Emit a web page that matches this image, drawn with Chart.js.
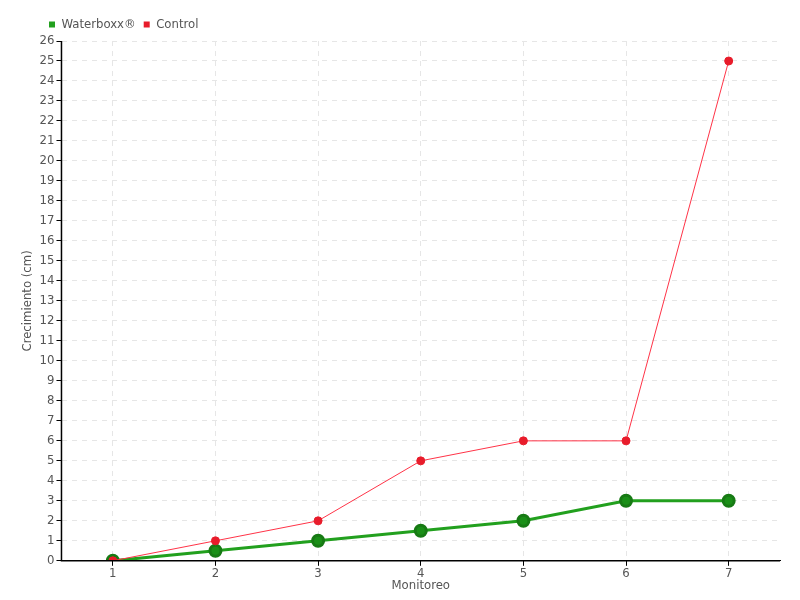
<!DOCTYPE html>
<html><head><meta charset="utf-8">
<script src="https://cdn.jsdelivr.net/npm/chart.js@4/dist/chart.umd.min.js"></script>
<style>html,body{margin:0;padding:0;background:#fff;}#wrap{width:800px;height:600px;}</style>
</head><body><div id="wrap"><canvas id="c" width="800" height="600"></canvas></div>
<script>
const categories = ['1','2','3','4','5','6','7'];
const waterboxx = [0, 0.5, 1, 1.5, 2, 3, 3];
const control = [0, 1, 2, 5, 6, 6, 25];
const yTicks = [0,1,2,3,4,5,6,7,8,9,10,11,12,13,14,15,16,17,18,19,20,21,22,23,24,25,26];
const FONT = "'DejaVu Sans Condensed', 'Liberation Sans Narrow', sans-serif";
new Chart(document.getElementById('c'), {
  type: 'line',
  data: {
    labels: categories,
    datasets: [
      {label: 'Control', data: control, borderColor: '#ff3347', backgroundColor: '#e81c2b',
       pointBorderColor: '#e81c2b', borderWidth: 1, pointRadius: 4, pointHoverRadius: 4, tension: 0},
      {label: 'Waterboxx®', data: waterboxx, borderColor: '#22a01e', backgroundColor: '#1a8f17',
       pointBorderColor: '#177a14', borderWidth: 3, pointRadius: 5.5, pointHoverRadius: 5.5, tension: 0}
    ]
  },
  options: {
    responsive: false, animation: false,
    layout: {padding: {left: 16, right: 20, top: 10, bottom: 7}},
    plugins: {
      legend: {position: 'top', align: 'start',
        labels: {usePointStyle: true, pointStyle: 'rect', boxWidth: 6, boxHeight: 6, padding: 8,
          color: '#555', font: {family: FONT, size: 13},
          generateLabels: (chart) => Chart.defaults.plugins.legend.labels.generateLabels(chart)
            .map(l => Object.assign(l, {lineWidth: 0, strokeStyle: l.fillStyle,
              fillStyle: l.datasetIndex === 1 ? '#22a01e' : '#e81c2b'})),
          sort: (a, b) => b.datasetIndex - a.datasetIndex}},
      tooltip: {enabled: false}
    },
    scales: {
      x: {offset: true,
        title: {display: true, text: 'Monitoreo', color: '#555', font: {family: FONT, size: 13}, padding: {top: -4, bottom: 0}},
        grid: {offset: false, color: '#e6e6e6', tickColor: '#000', tickLength: 5, drawOnChartArea: true},
        border: {color: '#000', width: 1, dash: [5, 5]},
        ticks: {color: '#555', font: {family: FONT, size: 13}, padding: 0}},
      y: {min: 0, max: 26,
        afterBuildTicks: (ax) => { ax.ticks = yTicks.map(v => ({value: v})); },
        title: {display: true, text: 'Crecimiento (cm)', color: '#555', font: {family: FONT, size: 13}, padding: {bottom: 2}},
        grid: {color: '#e6e6e6', tickColor: '#000', tickLength: 5},
        border: {color: '#000', width: 1, dash: [5, 5]},
        ticks: {color: '#555', font: {family: FONT, size: 13}, padding: 2, stepSize: 1}}
    }
  },
  plugins: [{
    id: 'shiftLegend',
    afterLayout(chart) {
      const lg = chart.legend;
      if (lg) { lg.left += 25; lg.right += 25; }
    },
    afterDraw(chart) {
      const {ctx, chartArea: a} = chart;
      ctx.save(); ctx.strokeStyle = '#000'; ctx.lineWidth = 1.5; ctx.setLineDash([]);
      ctx.beginPath(); ctx.moveTo(a.left, a.top); ctx.lineTo(a.left, a.bottom); ctx.lineTo(a.right, a.bottom); ctx.stroke();
      ctx.restore();
    }
  }]
});
</script></body></html>
